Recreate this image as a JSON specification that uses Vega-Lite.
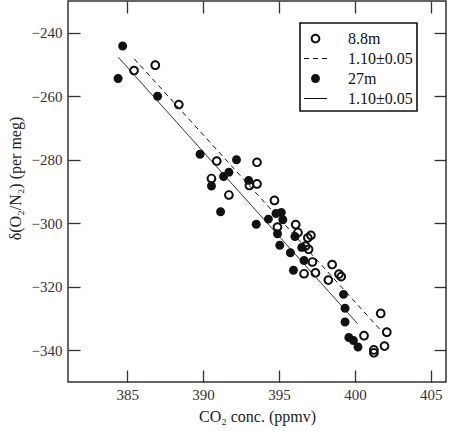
{
  "$schema": "https://vega.github.io/schema/vega-lite/v6.json",
  "width": 378,
  "height": 381,
  "autosize": {"type": "none"},
  "padding": {"left": 68, "top": 1, "right": 4, "bottom": 49},
  "datasets": {
    "pts": [
      {"series": "27m", "co2": 384.7, "do2": -244.2},
      {"series": "27m", "co2": 384.4, "do2": -254.4},
      {"series": "27m", "co2": 387.0, "do2": -260.0},
      {"series": "27m", "co2": 389.8, "do2": -278.3},
      {"series": "27m", "co2": 392.2, "do2": -280.0},
      {"series": "27m", "co2": 391.7, "do2": -283.9},
      {"series": "27m", "co2": 391.35, "do2": -285.3},
      {"series": "27m", "co2": 390.55, "do2": -288.3},
      {"series": "27m", "co2": 393.0, "do2": -286.5},
      {"series": "27m", "co2": 391.15, "do2": -296.4},
      {"series": "27m", "co2": 393.5, "do2": -300.3},
      {"series": "27m", "co2": 394.3, "do2": -298.7},
      {"series": "27m", "co2": 394.8, "do2": -296.9},
      {"series": "27m", "co2": 395.15, "do2": -296.6},
      {"series": "27m", "co2": 395.25, "do2": -298.9},
      {"series": "27m", "co2": 394.9, "do2": -303.3},
      {"series": "27m", "co2": 395.05, "do2": -306.9},
      {"series": "27m", "co2": 395.75, "do2": -309.3},
      {"series": "27m", "co2": 395.95, "do2": -314.8},
      {"series": "27m", "co2": 396.05, "do2": -304.2},
      {"series": "27m", "co2": 396.5, "do2": -307.6},
      {"series": "27m", "co2": 396.65, "do2": -311.7},
      {"series": "27m", "co2": 399.25, "do2": -322.4},
      {"series": "27m", "co2": 399.35, "do2": -326.8},
      {"series": "27m", "co2": 399.35, "do2": -331.1},
      {"series": "27m", "co2": 399.6, "do2": -336.0},
      {"series": "27m", "co2": 399.9, "do2": -336.9},
      {"series": "27m", "co2": 400.2, "do2": -339.0},
      {"series": "8.8m", "co2": 385.45, "do2": -251.9},
      {"series": "8.8m", "co2": 386.85, "do2": -250.2},
      {"series": "8.8m", "co2": 388.4, "do2": -262.6},
      {"series": "8.8m", "co2": 390.9, "do2": -280.4},
      {"series": "8.8m", "co2": 393.55, "do2": -280.8},
      {"series": "8.8m", "co2": 390.55, "do2": -285.9},
      {"series": "8.8m", "co2": 393.55, "do2": -287.6},
      {"series": "8.8m", "co2": 393.05, "do2": -288.1},
      {"series": "8.8m", "co2": 391.7, "do2": -291.1},
      {"series": "8.8m", "co2": 394.7, "do2": -292.8},
      {"series": "8.8m", "co2": 394.9, "do2": -301.2},
      {"series": "8.8m", "co2": 396.1, "do2": -300.4},
      {"series": "8.8m", "co2": 396.25, "do2": -302.9},
      {"series": "8.8m", "co2": 397.1, "do2": -303.8},
      {"series": "8.8m", "co2": 396.9, "do2": -304.6},
      {"series": "8.8m", "co2": 396.75, "do2": -307.2},
      {"series": "8.8m", "co2": 396.95, "do2": -308.2},
      {"series": "8.8m", "co2": 397.2, "do2": -312.2},
      {"series": "8.8m", "co2": 396.65, "do2": -315.9},
      {"series": "8.8m", "co2": 397.4, "do2": -315.6},
      {"series": "8.8m", "co2": 398.25, "do2": -317.9},
      {"series": "8.8m", "co2": 398.5, "do2": -313.0},
      {"series": "8.8m", "co2": 398.95, "do2": -316.0},
      {"series": "8.8m", "co2": 399.1, "do2": -316.8},
      {"series": "8.8m", "co2": 401.7, "do2": -328.4},
      {"series": "8.8m", "co2": 402.1, "do2": -334.3},
      {"series": "8.8m", "co2": 400.6, "do2": -335.4},
      {"series": "8.8m", "co2": 401.95, "do2": -338.7},
      {"series": "8.8m", "co2": 401.25, "do2": -339.9},
      {"series": "8.8m", "co2": 401.25, "do2": -340.8}
    ],
    "fits": [
      {"series": "fit8", "co2": 385.46, "do2": -248.2},
      {"series": "fit8", "co2": 402.06, "do2": -335.6},
      {"series": "fit27", "co2": 384.41, "do2": -247.7},
      {"series": "fit27", "co2": 400.17, "do2": -331.6}
    ]
  },
  "layer": [
    {
      "data": {"name": "fits"},
      "mark": {"type": "line", "color": "#111", "strokeWidth": 1},
      "encoding": {
        "x": {
          "field": "co2", "type": "quantitative",
          "scale": {"domain": [381.1, 406.0], "nice": false, "zero": false},
          "axis": {"orient": "top", "labels": false, "title": null, "values": [385, 390, 395, 400, 405], "offset": -12, "ticks": true, "tickSize": 12}
        },
        "y": {
          "field": "do2", "type": "quantitative",
          "scale": {"domain": [-350, -230], "nice": false, "zero": false},
          "axis": {"orient": "right", "labels": false, "title": null, "values": [-240, -260, -280, -300, -320, -340], "offset": -12, "ticks": true, "tickSize": 12}
        },
        "detail": {"field": "series"},
        "strokeDash": {
          "field": "series", "type": "nominal",
          "scale": {"domain": ["fit8", "fit27"], "range": [[5, 4], [1, 0]]},
          "legend": null
        }
      }
    },
    {
      "data": {"name": "pts"},
      "mark": {"type": "point", "filled": true, "size": 529, "fill": "#111", "strokeWidth": 0, "opacity": 1},
      "encoding": {
        "x": {
          "field": "co2", "type": "quantitative",
          "axis": {"orient": "bottom", "title": "CO₂ conc. (ppmv)", "values": [385, 390, 395, 400, 405], "offset": -12, "ticks": true, "tickSize": 12, "labelPadding": 5, "titlePadding": 6}
        },
        "y": {
          "field": "do2", "type": "quantitative",
          "axis": {"orient": "left", "title": "δ(O₂/N₂) (per meg)", "values": [-240, -260, -280, -300, -320, -340], "offset": -12, "ticks": true, "tickSize": 12, "labelPadding": 6, "titlePadding": 8, "titleY": 177}
        },
        "shape": {
          "field": "series", "type": "nominal",
          "scale": {
            "domain": ["8.8m", "fit8", "27m", "fit27"],
            "range": [
              "M-0.42,0A0.42,0.42,0,1,0,0.42,0A0.42,0.42,0,1,0,-0.42,0ZM-0.25,0A0.25,0.25,0,1,1,0.25,0A0.25,0.25,0,1,1,-0.25,0Z",
              "M-1,-0.045H-0.57V0.045H-1ZM-0.22,-0.045H0.22V0.045H-0.22ZM0.57,-0.045H1V0.045H0.57Z",
              "M-0.39,0A0.39,0.39,0,1,0,0.39,0A0.39,0.39,0,1,0,-0.39,0Z",
              "M-1,-0.045H1V0.045H-1Z"
            ]
          },
          "legend": {
            "title": null,
            "orient": "none",
            "legendX": 232,
            "legendY": 22,
            "padding": 4,
            "strokeColor": "#111",
            "fillColor": "white",
            "symbolSize": 529,
            "symbolFillColor": "#111",
            "symbolStrokeWidth": 0,
            "labelFont": "Liberation Serif",
            "labelFontSize": 16,
            "labelColor": "#111",
            "labelOffset": 21,
            "rowPadding": -1.2,
            "labelExpr": "indexof(datum.value, 'fit') === 0 ? '1.10±0.05' : datum.label"
          }
        }
      }
    }
  ],
  "config": {
    "view": {"stroke": "#333", "strokeWidth": 1.5},
    "legend": {"strokeWidth": 1.6},
    "axis": {
      "grid": false,
      "domain": false,
      "ticks": true,
      "tickColor": "#333",
      "tickWidth": 1.3,
      "labelFont": "Liberation Serif",
      "labelFontSize": 15,
      "labelColor": "#333",
      "titleFont": "Liberation Serif",
      "titleFontSize": 16,
      "titleFontWeight": "normal",
      "titleColor": "#222"
    }
  }
}
